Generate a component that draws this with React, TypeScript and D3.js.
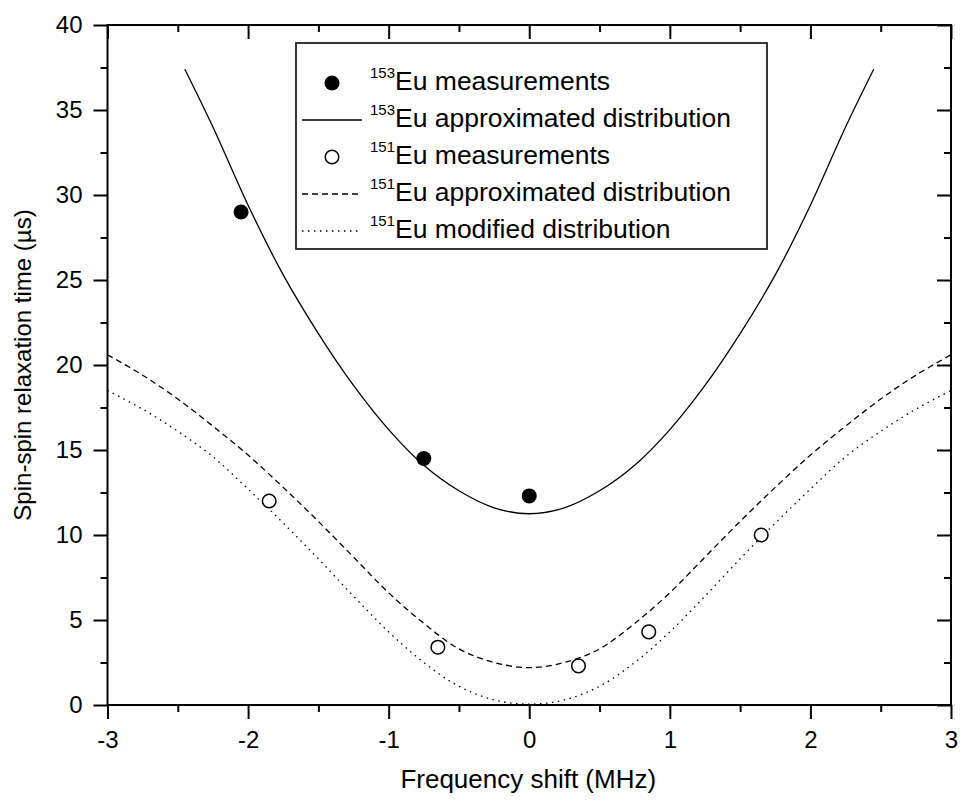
import React, { useEffect, useRef } from 'react';
import * as d3 from 'd3';

// tick values
const freqTicks = [-3, -2, -1, 0, 1, 2, 3];
const freqMinor = [-2.5, -1.5, -0.5, 0.5, 1.5, 2.5];
const timeTicks = [0, 5, 10, 15, 20, 25, 30, 35, 40];
const timeMinor = [2.5, 7.5, 12.5, 17.5, 22.5, 27.5, 32.5, 37.5];

// 153Eu measurements (filled)
const eu153X = [-2.05, -0.75, 0];
const eu153Y = [29.0, 14.5, 12.3];

// 151Eu measurements (open)
const eu151X = [-1.85, -0.65, 0.35, 0.85, 1.65];
const eu151Y = [12.0, 3.4, 2.3, 4.3, 10.0];

// 153Eu approximated distribution (solid)
const approx153X = [-2.45, -2.25, -2, -1.75, -1.5, -1.25, -1, -0.75, -0.5, -0.25, 0, 0.25, 0.5, 0.75, 1, 1.25, 1.5, 1.75, 2, 2.25, 2.45];
const approx153Y = [37.4, 34.0, 29.4, 25.3, 21.85, 18.8, 16.2, 14.1, 12.6, 11.6, 11.25, 11.6, 12.6, 14.1, 16.2, 18.8, 21.85, 25.3, 29.4, 34.0, 37.4];

// 151Eu approximated (dashed) and modified (dotted) distributions
const dist151X = [-3, -2.75, -2.5, -2.25, -2, -1.75, -1.5, -1.25, -1, -0.75, -0.5, -0.25, 0, 0.25, 0.5, 0.75, 1, 1.25, 1.5, 1.75, 2, 2.25, 2.5, 2.75, 3];
const approx151Y = [20.6, 19.4, 18.0, 16.4, 14.7, 12.8, 10.8, 8.7, 6.6, 4.8, 3.3, 2.5, 2.2, 2.5, 3.3, 4.8, 6.6, 8.7, 10.8, 12.8, 14.7, 16.4, 18.0, 19.4, 20.6];
const modified151Y = [18.5, 17.4, 16.1, 14.6, 12.7, 10.7, 8.6, 6.4, 4.3, 2.5, 1.1, 0.3, 0.05, 0.3, 1.1, 2.5, 4.3, 6.4, 8.6, 10.7, 12.7, 14.6, 16.1, 17.4, 18.5];

const legendIso = ['153', '153', '151', '151', '151'];
const legendText = ['Eu measurements', 'Eu approximated distribution', 'Eu measurements', 'Eu approximated distribution', 'Eu modified distribution'];

const FONT = "'Liberation Sans', Arial, Helvetica, sans-serif";

const Chart = () => {
  const svgRef = useRef(null);

  useEffect(() => {
    const width = 963;
    const height = 800;
    const margin = { top: 25, right: 12, bottom: 95, left: 107.5 };

    const svg = d3.select(svgRef.current).attr('width', width).attr('height', height);
    svg.selectAll('*').remove();

    const x = d3.scaleLinear().domain([-3, 3]).range([margin.left, width - margin.right]);
    const y = d3.scaleLinear().domain([0, 40]).range([height - margin.bottom, margin.top]);
    const [x0, x1] = x.range();
    const [y0, y1] = y.range();

    const label = (d) => String(d); // plain hyphen minus, like the original

    // axes: bottom/left ticks outward, top/right ticks inward
    const styleAxis = (g) => {
      g.select('.domain').remove();
      g.selectAll('line').attr('stroke', '#000').attr('stroke-width', 2);
      g.selectAll('text').attr('font-family', FONT).attr('font-size', 24).attr('fill', '#000');
    };

    svg.append('g').attr('transform', `translate(0,${y0})`)
      .call(d3.axisBottom(x).tickValues(freqMinor).tickSize(7).tickFormat(() => '')).call(styleAxis);
    svg.append('g').attr('transform', `translate(0,${y0})`)
      .call(d3.axisBottom(x).tickValues(freqTicks).tickSize(14).tickPadding(12).tickFormat(label)).call(styleAxis);

    svg.append('g').attr('transform', `translate(${x0},0)`)
      .call(d3.axisLeft(y).tickValues(timeMinor).tickSize(7).tickFormat(() => '')).call(styleAxis);
    svg.append('g').attr('transform', `translate(${x0},0)`)
      .call(d3.axisLeft(y).tickValues(timeTicks).tickSize(14).tickPadding(11).tickFormat(label)).call(styleAxis);

    svg.append('g').attr('transform', `translate(0,${y1})`)
      .call(d3.axisTop(x).tickValues(freqMinor).tickSize(-7).tickFormat(() => '')).call(styleAxis);
    svg.append('g').attr('transform', `translate(0,${y1})`)
      .call(d3.axisTop(x).tickValues(freqTicks).tickSize(-14).tickFormat(() => '')).call(styleAxis);

    svg.append('g').attr('transform', `translate(${x1},0)`)
      .call(d3.axisRight(y).tickValues(timeMinor).tickSize(-7).tickFormat(() => '')).call(styleAxis);
    svg.append('g').attr('transform', `translate(${x1},0)`)
      .call(d3.axisRight(y).tickValues(timeTicks).tickSize(-14).tickFormat(() => '')).call(styleAxis);

    // frame
    svg.append('rect')
      .attr('x', x0).attr('y', y1)
      .attr('width', x1 - x0).attr('height', y0 - y1)
      .attr('fill', 'none').attr('stroke', '#000').attr('stroke-width', 2);

    // axis titles
    svg.append('text')
      .attr('x', (x0 + x1) / 2 - 1).attr('y', 788)
      .attr('text-anchor', 'middle')
      .attr('font-family', FONT).attr('font-size', 26)
      .text('Frequency shift (MHz)');

    svg.append('text')
      .attr('transform', `translate(31,${(y0 + y1) / 2}) rotate(-90)`)
      .attr('text-anchor', 'middle')
      .attr('font-family', FONT).attr('font-size', 24)
      .text('Spin-spin relaxation time (\u00b5s)');

    // curves
    const line = d3.line().curve(d3.curveCatmullRom.alpha(0.5)).x((d) => x(d[0])).y((d) => y(d[1]));

    svg.append('path')
      .datum(approx153X.map((v, i) => [v, approx153Y[i]]))
      .attr('d', line).attr('fill', 'none').attr('stroke', '#000').attr('stroke-width', 1.3);

    svg.append('path')
      .datum(dist151X.map((v, i) => [v, approx151Y[i]]))
      .attr('d', line).attr('fill', 'none').attr('stroke', '#000').attr('stroke-width', 1.3)
      .attr('stroke-dasharray', '6,4');

    svg.append('path')
      .datum(dist151X.map((v, i) => [v, modified151Y[i]]))
      .attr('d', line).attr('fill', 'none').attr('stroke', '#000').attr('stroke-width', 1.3)
      .attr('stroke-dasharray', '1.5,4.5');

    // points
    svg.append('g').selectAll('circle')
      .data(eu153X.map((v, i) => [v, eu153Y[i]]))
      .join('circle')
      .attr('cx', (d) => x(d[0])).attr('cy', (d) => y(d[1]))
      .attr('r', 7.5).attr('fill', '#000');

    svg.append('g').selectAll('circle')
      .data(eu151X.map((v, i) => [v, eu151Y[i]]))
      .join('circle')
      .attr('cx', (d) => x(d[0])).attr('cy', (d) => y(d[1]))
      .attr('r', 6.8).attr('fill', '#fff').attr('stroke', '#000').attr('stroke-width', 1.5);

    // legend
    const legend = svg.append('g');
    legend.append('rect')
      .attr('x', 296).attr('y', 43).attr('width', 471).attr('height', 206)
      .attr('fill', '#fff').attr('stroke', '#222').attr('stroke-width', 1.8);

    const rowY = (i) => 83 + i * 37;
    legendText.forEach((text, i) => {
      const cy = rowY(i);
      if (i === 0) {
        legend.append('circle').attr('cx', 332).attr('cy', cy).attr('r', 7.5).attr('fill', '#000');
      } else if (i === 2) {
        legend.append('circle').attr('cx', 332).attr('cy', cy).attr('r', 6.8)
          .attr('fill', '#fff').attr('stroke', '#000').attr('stroke-width', 1.5);
      } else {
        legend.append('line')
          .attr('x1', 302).attr('x2', 362).attr('y1', cy).attr('y2', cy)
          .attr('stroke', '#000').attr('stroke-width', 1.3)
          .attr('stroke-dasharray', i === 3 ? '6,4' : i === 4 ? '1.5,4.5' : null);
      }
      const t = legend.append('text')
        .attr('x', 370).attr('y', cy + 7)
        .attr('font-family', FONT);
      t.append('tspan').attr('font-size', 15).attr('dy', -12).text(legendIso[i]);
      t.append('tspan').attr('font-size', 26.5).attr('dy', 12).text(text);
    });
  }, []);

  return (
    <svg ref={svgRef} style={{ position: 'absolute', left: 0, top: 0, display: 'block', background: '#fff' }}></svg>
  );
};

export default function App() {
  return <Chart />;
}
